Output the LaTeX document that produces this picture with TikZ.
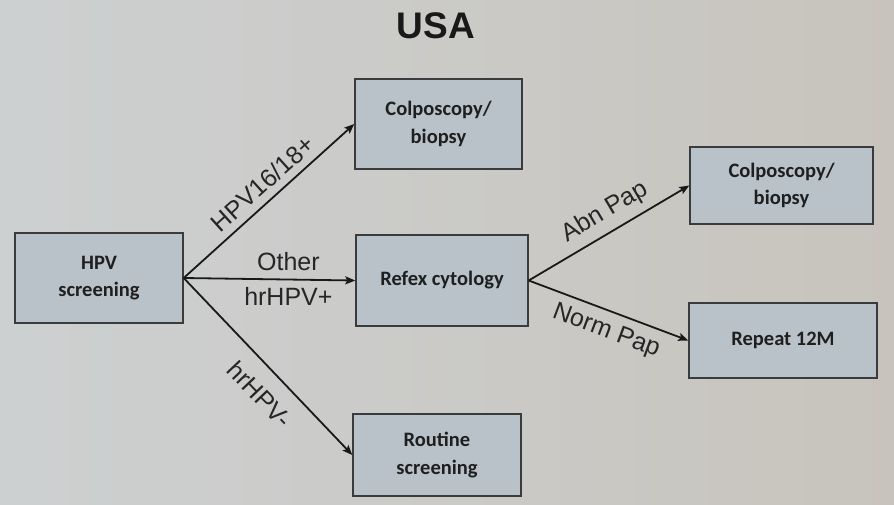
\documentclass[tikz,border=0pt]{standalone}
\usepackage{fontspec}
\setmainfont{Liberation Sans}
\newfontfamily\boxfont{Carlito}
\usetikzlibrary{arrows.meta}
\definecolor{bgleft}{HTML}{CDD0D1}
\definecolor{bgmid}{HTML}{D8D7D3}
\definecolor{bgright}{HTML}{C8C4BD}
\definecolor{boxfill}{HTML}{B8C2C8}
\definecolor{boxline}{HTML}{3A3B3C}
\begin{document}
\begin{tikzpicture}[x=1pt,y=-1pt,
  flowbox/.style={draw=boxline, line width=1.4pt, fill=boxfill, inner sep=0pt,
    align=center, text=black!88,
    font=\boxfont\bfseries\fontsize{20.5}{27.5}\selectfont},
  flowarrow/.style={line width=1.8pt, black!90, -{Stealth[length=10pt,width=8pt,inset=2pt]}},
  lbl/.style={font=\fontsize{25}{28}\selectfont, text=black!85, inner sep=3.3pt}]

  % slide background
  \shade[left color=bgleft, middle color=bgmid, right color=bgright]
    (0,0) rectangle (894,505);
  \useasboundingbox (0,0) rectangle (894,505);

  % title
  \node[font=\bfseries\fontsize{37}{40}\selectfont, text=black!90] (title) at (436,26) {USA};

  % boxes
  \node[flowbox, minimum width=168pt, minimum height=90pt] (hpv) at (99,278) {HPV\\screening};
  \node[flowbox, minimum width=167pt, minimum height=90pt] (colpo1) at (438.5,124) {Colposcopy/\\biopsy};
  \node[flowbox, minimum width=172pt, minimum height=91pt] (reflex) at (442,280.5) {Refex cytology};
  \node[flowbox, minimum width=168pt, minimum height=82pt] (routine) at (437,455) {Routine\\screening};
  \node[flowbox, minimum width=183pt, minimum height=77pt] (colpo2) at (781.5,185.5) {Colposcopy/\\biopsy};
  \node[flowbox, minimum width=188pt, minimum height=75pt] (repeat) at (783,340.5) {Repeat 12M};

  % connectors
  \draw[flowarrow] (hpv.east) -- (colpo1.west)
    node[lbl, sloped, pos=0.53, above=4pt] (l1) {HPV16/18+};
  \draw[flowarrow] (hpv.east) -- (reflex.west)
    node[lbl, pos=0.61, above=4.5pt] (l2) {Other}
    node[lbl, pos=0.61, below=3.5pt] (l3) {hrHPV+};
  \draw[flowarrow] (hpv.east) -- (routine.west)
    node[lbl, sloped, pos=0.56, below=12pt] (l4) {hrHPV-};
  \draw[flowarrow] (reflex.east) -- (colpo2.west)
    node[lbl, sloped, pos=0.54, above=4pt] (l5) {Abn Pap};
  \draw[flowarrow] (reflex.east) -- (repeat.west)
    node[lbl, sloped, pos=0.53, below=5pt] (l6) {Norm Pap};
\end{tikzpicture}
\end{document}
